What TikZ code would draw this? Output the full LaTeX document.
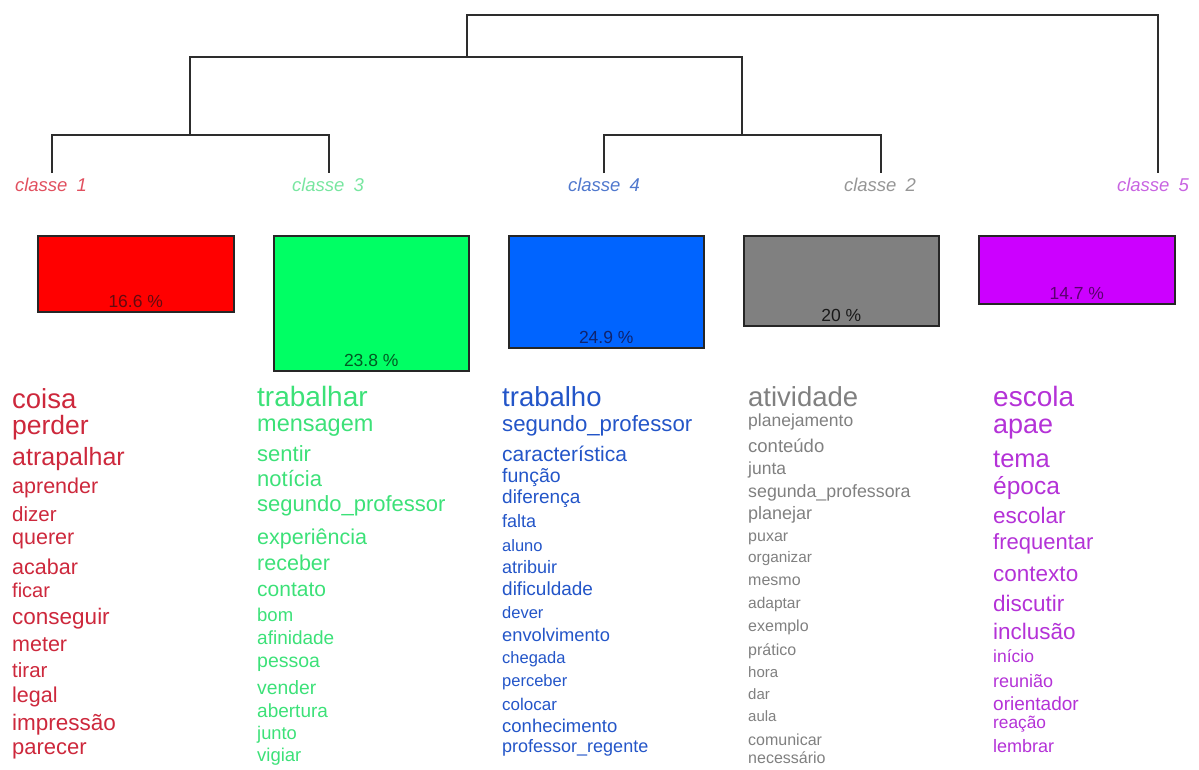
\documentclass[tikz,border=0pt]{standalone}
\usepackage{fontspec}
\setmainfont{Liberation Sans}
\definecolor{wr}{RGB}{205,40,60}
\definecolor{wg}{RGB}{60,225,120}
\definecolor{wb}{RGB}{35,85,200}
\definecolor{wgr}{RGB}{128,128,128}
\definecolor{wp}{RGB}{180,50,215}
\definecolor{lr}{RGB}{225,80,95}
\definecolor{lg}{RGB}{120,230,160}
\definecolor{lb}{RGB}{80,120,205}
\definecolor{lgr}{RGB}{150,150,150}
\definecolor{lp}{RGB}{200,100,225}
\definecolor{br}{RGB}{255,0,0}
\definecolor{bg}{RGB}{0,255,100}
\definecolor{bb}{RGB}{0,100,255}
\definecolor{bgr}{RGB}{128,128,128}
\definecolor{bp}{RGB}{204,0,255}
\definecolor{tr}{RGB}{100,10,15}
\definecolor{tg}{RGB}{0,90,35}
\definecolor{tb}{RGB}{15,35,110}
\definecolor{tgr}{RGB}{25,25,25}
\definecolor{tp}{RGB}{90,0,110}
\definecolor{dend}{RGB}{45,45,45}
\begin{document}
\begin{tikzpicture}[x=1pt,y=-1pt,
  dline/.style={draw=dend,line width=2pt},
  cls/.style={font=\fontsize{18.5}{18.5}\selectfont\itshape,inner sep=0pt,anchor=base},
  boxnode/.style={draw=black!85,line width=1.5pt,anchor=north west,inner sep=0pt},
  pct/.style={font=\fontsize{17.5}{17.5}\selectfont,inner sep=0pt},
  word/.style={inner sep=0pt,anchor=base west}]
\useasboundingbox (0,0) rectangle (1199,769);
% class labels
\node[cls,text=lr] (c1) at (51,191) {classe\enspace 1};
\node[cls,text=lg] (c3) at (328,191) {classe\enspace 3};
\node[cls,text=lb] (c4) at (604,191) {classe\enspace 4};
\node[cls,text=lgr] (c2) at (880,191) {classe\enspace 2};
\node[cls,text=lp] (c5) at (1153,191) {classe\enspace 5};
\coordinate (e1) at (52,173);
\coordinate (e3) at (329,173);
\coordinate (e4) at (604,173);
\coordinate (e2) at (881,173);
\coordinate (e5) at (1158,173);
\coordinate (j13) at (190,135);
\coordinate (j42) at (742,135);
\coordinate (jL) at (467,57);
\coordinate (root) at (467,15);
% dendrogram
\draw[dline] (e1) |- (j13) -| (e3);
\draw[dline] (e4) |- (j42) -| (e2);
\draw[dline] (j13) |- (jL) -| (j42);
\draw[dline] (jL) -- (root) -| (e5);
% boxes
\node[boxnode,fill=br,minimum width=196pt,minimum height=76pt] (b1) at (37,235) {};
\node[boxnode,fill=bg,minimum width=195pt,minimum height=135pt] (b3) at (273,235) {};
\node[boxnode,fill=bb,minimum width=195pt,minimum height=112pt] (b4) at (508,235) {};
\node[boxnode,fill=bgr,minimum width=195pt,minimum height=90pt] (b2) at (743,235) {};
\node[boxnode,fill=bp,minimum width=196pt,minimum height=68pt] (b5) at (978,235) {};
\node[pct,text=tr] (p1) at ([yshift=11pt]b1.south) {16.6 \%};
\node[pct,text=tg] (p3) at ([yshift=11pt]b3.south) {23.8 \%};
\node[pct,text=tb] (p4) at ([yshift=11pt]b4.south) {24.9 \%};
\node[pct,text=tgr] (p2) at ([yshift=11pt]b2.south) {20 \%};
\node[pct,text=tp] (p5) at ([yshift=11pt]b5.south) {14.7 \%};
% word lists
\foreach \w/\y/\s [count=\i] in {coisa/401/27.5,perder/428/26.5,atrapalhar/459/25,aprender/488/21.5,dizer/516/20.5,querer/539/21.5,acabar/569/21.5,ficar/592/20,conseguir/619/22.5,meter/646/21.5,tirar/672/20.5,legal/697/21.5,impressão/725/22.5,parecer/749/22}
  \node[word,text=wr,font=\fontsize{\s}{\s}\selectfont] (r\i) at (12,{\y+0.26*\s}) {\w};
\foreach \w/\y/\s [count=\i] in {trabalhar/399/28,mensagem/425/23.5,sentir/456/22,notícia/481/22,segundo\_professor/506/22,experiência/539/21.5,receber/565/21.5,contato/591/21,bom/617/18.5,afinidade/640/19,pessoa/662/19.5,vender/689/19.3,abertura/713/19,junto/735/18.3,vigiar/757/18.5}
  \node[word,text=wg,font=\fontsize{\s}{\s}\selectfont] (g\i) at (257,{\y+0.26*\s}) {\w};
\foreach \w/\y/\s [count=\i] in {trabalho/399/27.5,segundo\_professor/426/22.2,característica/456/21,função/477/19.5,diferença/499/19,falta/523/18,aluno/547/16.5,atribuir/569/18,dificuldade/591/19,dever/614/16.5,envolvimento/637/18.3,chegada/659/16.5,perceber/682/16.5,colocar/706/17,conhecimento/728/18.5,professor\_regente/748/18}
  \node[word,text=wb,font=\fontsize{\s}{\s}\selectfont] (u\i) at (502,{\y+0.26*\s}) {\w};
\foreach \w/\y/\s [count=\i] in {atividade/399/27.5,planejamento/422/17.5,conteúdo/448/18.5,junta/470/17.5,segunda\_professora/493/17.8,planejar/515/18,puxar/537/16,organizar/559/15.3,mesmo/581/16,adaptar/604/15.5,exemplo/627/16,prático/651/16,hora/674/15,dar/696/15,aula/718/15,comunicar/741/16,necessário/759/16}
  \node[word,text=wgr,font=\fontsize{\s}{\s}\selectfont] (a\i) at (748,{\y+0.26*\s}) {\w};
\foreach \w/\y/\s [count=\i] in {escola/399/28,apae/426/27,tema/461/25.5,época/488/24.5,escolar/518/22.5,frequentar/544/22,contexto/576/22.5,discutir/606/22.5,inclusão/634/22.5,início/658/17.5,reunião/683/18,orientador/706/19,reação/724/17.3,lembrar/748/18}
  \node[word,text=wp,font=\fontsize{\s}{\s}\selectfont] (v\i) at (993,{\y+0.26*\s}) {\w};
\end{tikzpicture}
\end{document}
